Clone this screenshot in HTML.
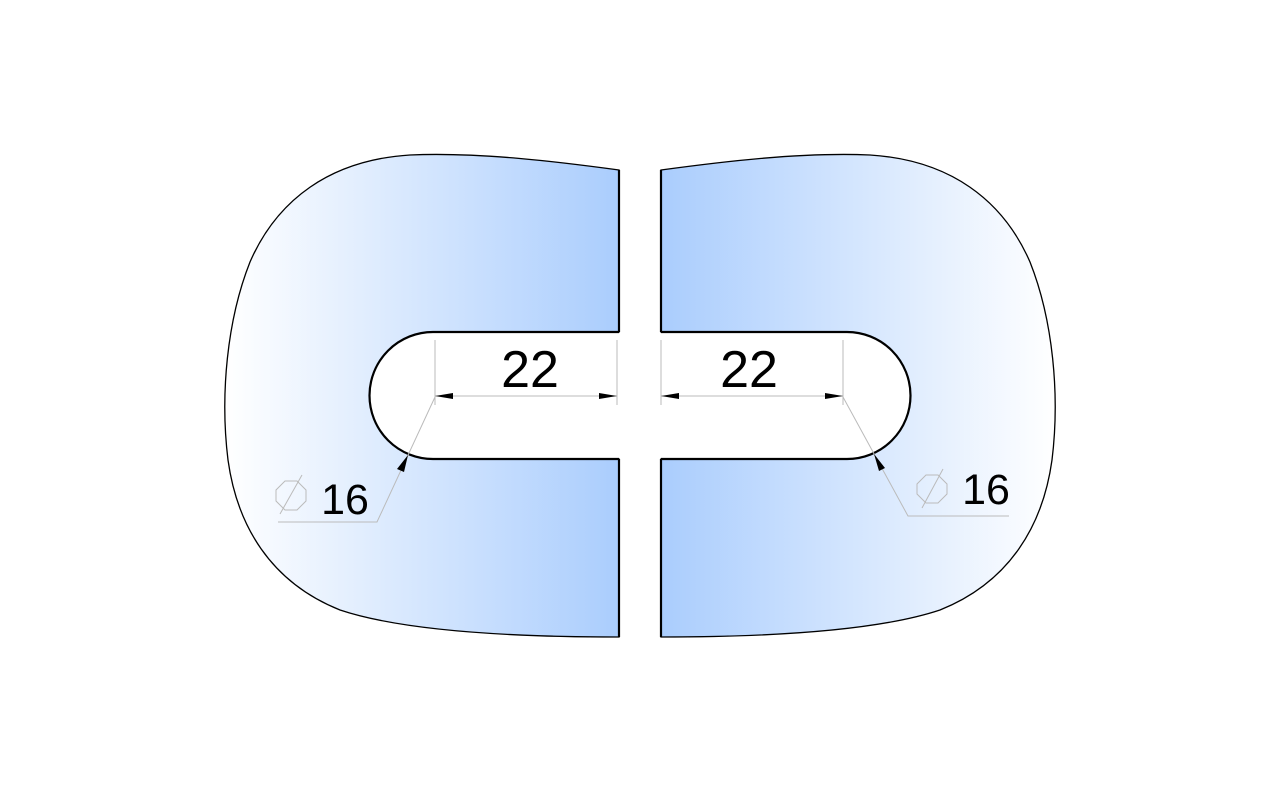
<!DOCTYPE html>
<html><head><meta charset="utf-8"><style>
html,body{margin:0;padding:0;background:#fff;}
svg{display:block;}
text{font-family:"Liberation Sans","DejaVu Sans",sans-serif;fill:#000;}
</style></head><body>
<svg width="1280" height="799" viewBox="0 0 1280 799" xmlns="http://www.w3.org/2000/svg">
<defs>
<linearGradient id="gr" x1="661" y1="0" x2="1055" y2="0" gradientUnits="userSpaceOnUse">
<stop offset="0" stop-color="#aacdfd"/><stop offset="1" stop-color="#ffffff"/>
</linearGradient>
<g id="piece">
<path d="M661,170 L661,332 L847,332 A63.5,63.5 0 0 1 847,459 L661,459 L661,637 C780,637 880,630 940,610 C1010,582 1043,525 1052,460 C1060,395 1053,320 1030,262 C1003,200 950,160 870,155 C800,152 720,162 661,170 Z" fill="url(#gr)" stroke="#000" stroke-width="1.3"/>
<path d="M661,332 L847,332 A63.5,63.5 0 0 1 847,459 L661,459" fill="none" stroke="#000" stroke-width="2.2"/>
<line x1="661" y1="170" x2="661" y2="332" stroke="#000" stroke-width="2.2"/>
<line x1="661" y1="459" x2="661" y2="637" stroke="#000" stroke-width="2.2"/>
</g>
</defs>
<use href="#piece"/>
<use href="#piece" transform="translate(1280,0) scale(-1,1)"/>
<g stroke="#bbb" stroke-width="1" fill="none">
<line x1="435" y1="340" x2="435" y2="405"/>
<line x1="617" y1="340" x2="617" y2="405"/>
<line x1="435" y1="396" x2="617" y2="396"/>
<line x1="661" y1="340" x2="661" y2="405"/>
<line x1="843" y1="340" x2="843" y2="405"/>
<line x1="661" y1="396" x2="843" y2="396"/>
<polyline points="435,397 377,522 278,522"/>
<polyline points="843,397 908,516 1009,516"/>
<polygon points="285,481 297,481 306,490 306,501 297,510 285,510 276,501 276,490"/>
<line x1="302" y1="475" x2="280" y2="514"/>
<polygon points="926,475 938,475 947,484 947,494 938,503 926,503 917,494 917,484"/>
<line x1="943" y1="469" x2="922" y2="508"/>
</g>
<g fill="#000">
<polygon points="435,396 453,393 453,399"/>
<polygon points="617,396 599,393 599,399"/>
<polygon points="661,396 679,393 679,399"/>
<polygon points="843,396 825,393 825,399"/>
<polygon points="408,455 404,472 397,469"/>
<polygon points="874,454 885,468 879,471"/>
</g>
<text x="530" y="387" font-size="52" text-anchor="middle">22</text>
<text x="749" y="387" font-size="52" text-anchor="middle">22</text>
<text x="345" y="514" font-size="43" text-anchor="middle">16</text>
<text x="986" y="504" font-size="43" text-anchor="middle">16</text>
</svg>
</body></html>
